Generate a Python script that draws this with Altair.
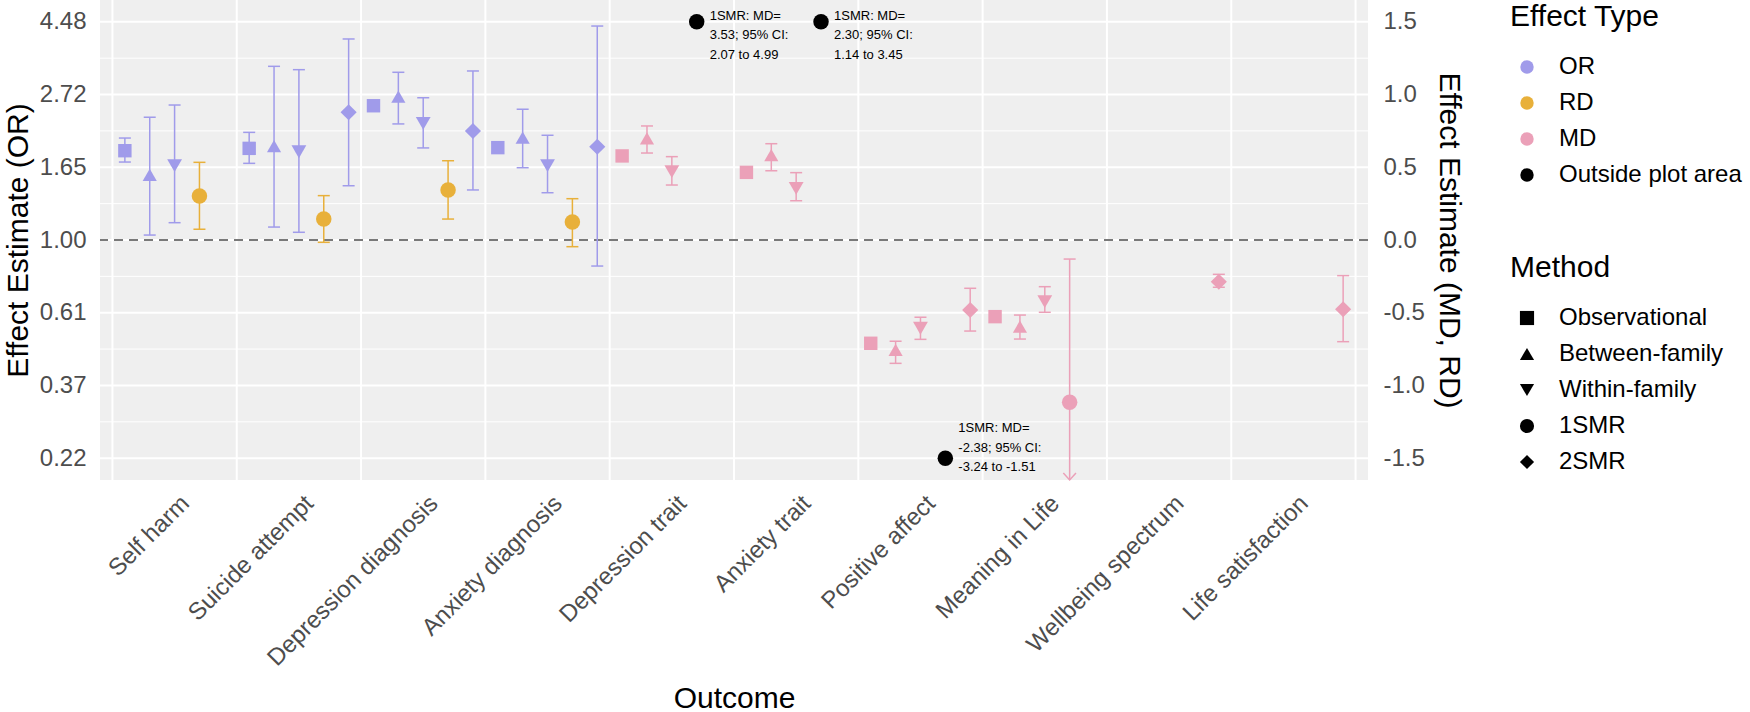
import altair as alt
import pandas as pd

# ---------------- data ----------------
outcomes = ["Self harm", "Suicide attempt", "Depression diagnosis", "Anxiety diagnosis",
            "Depression trait", "Anxiety trait", "Positive affect", "Meaning in Life",
            "Wellbeing spectrum", "Life satisfaction"]
methods = ["Observational", "Between-family", "Within-family", "1SMR", "2SMR"]
effect_types = ["OR", "RD", "MD", "Outside plot area"]
type_colors = ["#A09BEA", "#E8B03A", "#EBA0B8", "#000000"]
method_shapes = ["square", "triangle-up", "triangle-down", "circle", "diamond"]
method_sizes = [180, 260, 260, 200, 160]

row_outcome = [
    "Self harm", "Self harm", "Self harm", "Self harm",
    "Suicide attempt", "Suicide attempt", "Suicide attempt", "Suicide attempt", "Suicide attempt",
    "Depression diagnosis", "Depression diagnosis", "Depression diagnosis", "Depression diagnosis", "Depression diagnosis",
    "Anxiety diagnosis", "Anxiety diagnosis", "Anxiety diagnosis", "Anxiety diagnosis", "Anxiety diagnosis",
    "Depression trait", "Depression trait", "Depression trait", "Depression trait",
    "Anxiety trait", "Anxiety trait", "Anxiety trait", "Anxiety trait",
    "Positive affect", "Positive affect", "Positive affect", "Positive affect", "Positive affect",
    "Meaning in Life", "Meaning in Life", "Meaning in Life", "Meaning in Life",
    "Wellbeing spectrum",
    "Life satisfaction",
]
row_method = [
    "Observational", "Between-family", "Within-family", "1SMR",
    "Observational", "Between-family", "Within-family", "1SMR", "2SMR",
    "Observational", "Between-family", "Within-family", "1SMR", "2SMR",
    "Observational", "Between-family", "Within-family", "1SMR", "2SMR",
    "Observational", "Between-family", "Within-family", "1SMR",
    "Observational", "Between-family", "Within-family", "1SMR",
    "Observational", "Between-family", "Within-family", "1SMR", "2SMR",
    "Observational", "Between-family", "Within-family", "1SMR",
    "2SMR",
    "2SMR",
]
row_type = [
    "OR", "OR", "OR", "RD",
    "OR", "OR", "OR", "RD", "OR",
    "OR", "OR", "OR", "RD", "OR",
    "OR", "OR", "OR", "RD", "OR",
    "MD", "MD", "MD", "MD",
    "MD", "MD", "MD", "MD",
    "MD", "MD", "MD", "MD", "MD",
    "MD", "MD", "MD", "MD",
    "MD",
    "MD",
]
row_est = [
    0.614, 0.447, 0.511, 0.302,
    0.630, 0.646, 0.607, 0.144, 0.878,
    0.923, 0.985, 0.802, 0.344, 0.749,
    0.635, 0.703, 0.511, 0.124, 0.641,
    0.578, 0.699, 0.470, 3.53,
    0.465, 0.584, 0.355, 2.30,
    -0.710, -0.756, -0.607, -2.38, -0.481,
    -0.527, -0.596, -0.424, -1.116,
    -0.287,
    -0.476,
]
row_lower = [
    0.536, 0.034, 0.119, 0.074,
    0.527, 0.089, 0.053, -0.016, 0.373,
    0.895, 0.798, 0.633, 0.144, 0.344,
    0.605, 0.497, 0.325, -0.046, -0.179,
    0.558, 0.598, 0.378, 2.07,
    0.445, 0.476, 0.270, 1.14,
    -0.730, -0.848, -0.683, -3.24, -0.626,
    -0.547, -0.681, -0.497, -2.10,
    -0.325,
    -0.699,
]
row_upper = [
    0.701, 0.844, 0.928, 0.534,
    0.740, 1.194, 1.171, 0.305, 1.382,
    0.951, 1.153, 0.978, 0.545, 1.162,
    0.665, 0.899, 0.720, 0.284, 1.471,
    0.598, 0.784, 0.573, 4.99,
    0.485, 0.662, 0.463, 3.45,
    -0.690, -0.696, -0.531, -1.51, -0.332,
    -0.507, -0.516, -0.321, -0.131,
    -0.236,
    -0.245,
]

plot_limits = [-1.5, 1.5]
y_domain = [-1.65, 1.65]
y_major = [-1.5, -1.0, -0.5, 0.0, 0.5, 1.0, 1.5]
y_minor = [-1.25, -0.75, -0.25, 0.25, 0.75, 1.25]
x_domain = [0.4, len(outcomes) + 0.6]
dodge_width = 0.2

# ---------------- table ----------------
df = pd.DataFrame({
    "outcome": row_outcome, "method": row_method, "type": row_type,
    "est": row_est, "lower": row_lower, "upper": row_upper,
})
o_idx = {o: i + 1 for i, o in enumerate(outcomes)}
m_idx = {m: i for i, m in enumerate(methods)}
df["pos"] = df["outcome"].map(o_idx) + (df["method"].map(m_idx) - (len(methods) - 1) / 2) * dodge_width
df["size_key"] = df["method"]
outside = (df["est"] > plot_limits[1]) | (df["est"] < plot_limits[0])
df["shown_type"] = df["type"].where(~outside, "Outside plot area")
df["y_plot"] = df["est"].clip(plot_limits[0], plot_limits[1])
df["label"] = [
    f"{m}: {t}=\n{e:.2f}; 95% CI:\n{lo:.2f} to {hi:.2f}"
    for m, t, e, lo, hi in zip(df["method"], df["type"], df["est"], df["lower"], df["upper"])
]
inside_df = df[~outside]
top_df = df[df["est"] > plot_limits[1]]
bottom_df = df[df["est"] < plot_limits[0]]

separators = pd.DataFrame({"p": [i + 0.5 for i in range(len(outcomes) + 1)]})

# ---------------- scales ----------------
FONT = "Liberation Sans"
xs = alt.Scale(domain=x_domain, nice=False, zero=False)
ys = alt.Scale(domain=y_domain, nice=False, zero=False, clamp=True)
color_scale = alt.Scale(domain=effect_types, range=type_colors)

x_label_expr = " : ".join(
    f"datum.value == {i + 1} ? '{o}'" for i, o in enumerate(outcomes)
) + " : ''"

X = lambda f: alt.X(f, scale=xs)

minor_grid = alt.Chart(pd.DataFrame({"v": y_minor})).mark_rule(color="white", strokeWidth=1).encode(
    y=alt.Y("v:Q", scale=ys, axis=None)
)
major_grid = alt.Chart(pd.DataFrame({"v": y_major})).mark_rule(color="white", strokeWidth=2).encode(
    y=alt.Y("v:Q", scale=ys, axis=alt.Axis(
        orient="left", values=y_major, labelExpr="format(exp(datum.value), '.2f')",
        title="Effect Estimate (OR)", labelPadding=14,
        titleX=-82, titleY=240, titleAngle=270, titleAlign="center", titleBaseline="middle",
    ))
)
vlines = alt.Chart(separators).mark_rule(color="white", strokeWidth=2).encode(
    x=alt.X("p:Q", scale=xs, axis=alt.Axis(
        orient="bottom",
        values=list(range(1, len(outcomes) + 1)),
        labelExpr=x_label_expr,
        labelAngle=315, labelAlign="right", labelBaseline="top",
        labelPadding=11, labelOffset=2, labelLimit=500, title="Outcome",
        titleY=227, titleBaseline="alphabetic", labelOverlap=False, labelBound=False,
    ))
)
zero_line = alt.Chart(pd.DataFrame({"v": [0.0]})).mark_rule(
    color="#4D4D4D", strokeDash=[9, 6], strokeWidth=1.6
).encode(
    y=alt.Y("v:Q", scale=ys, axis=alt.Axis(
        orient="right", values=y_major,
        labelExpr="replace(format(datum.value, '.1f'), '\u2212', '-')",
        title="Effect Estimate (MD, RD)", labelPadding=15,
        titleX=80, titleY=240, titleAngle=90, titleAlign="center", titleBaseline="middle",
    ))
)

err_color = alt.Color("shown_type:N", scale=color_scale)
err_rule = alt.Chart(inside_df).mark_rule(strokeWidth=1.5).encode(
    x=X("pos:Q"),
    y=alt.Y("lower:Q", scale=ys, axis=None),
    y2="upper:Q",
    color=err_color,
)
cap_hi = alt.Chart(inside_df).mark_tick(orient="horizontal", size=12, thickness=1.5, opacity=1).encode(
    x=X("pos:Q"),
    y=alt.Y("upper:Q", scale=ys, axis=None),
    color=err_color,
)
cap_lo = alt.Chart(inside_df).transform_filter(
    f"datum.lower >= {y_domain[0]}"
).mark_tick(orient="horizontal", size=12, thickness=1.5, opacity=1).encode(
    x=X("pos:Q"),
    y=alt.Y("lower:Q", scale=ys, axis=None),
    color=err_color,
)
arrow = alt.Chart(inside_df).transform_filter(
    f"datum.lower < {y_domain[0]}"
).mark_point(shape="M-1,-1.1L0,0L1,-1.1", filled=False, strokeWidth=1.5, size=160, opacity=1).encode(
    x=X("pos:Q"),
    y=alt.Y("lower:Q", scale=ys, axis=None),
    color=err_color,
)

legend_common = dict(
    orient="none", legendX=1410, symbolOffset=5, labelOffset=20, rowPadding=12,
    titlePadding=23, padding=0, labelLimit=400,
)
points = alt.Chart(df).mark_point(filled=True, opacity=1).encode(
    x=X("pos:Q"),
    y=alt.Y("y_plot:Q", scale=ys, axis=None),
    color=alt.Color("shown_type:N", scale=color_scale, legend=alt.Legend(
        title="Effect Type", legendY=2,
        symbolType="circle", symbolSize=180, symbolStrokeWidth=0, **legend_common,
    )),
    shape=alt.Shape("method:N", scale=alt.Scale(domain=methods, range=method_shapes), legend=alt.Legend(
        title="Method", legendY=253,
        symbolSize=200, symbolFillColor="black", symbolStrokeColor="black", symbolStrokeWidth=0,
        **legend_common,
    )),
    size=alt.Size("size_key:N", sort=methods, scale=alt.Scale(range=method_sizes), legend=None),
)

text_top = alt.Chart(top_df).mark_text(
    align="left", baseline="top", dx=13, dy=-12, fontSize=13, lineHeight=19.5,
    font=FONT, color="black", lineBreak="\n"
).encode(
    x=X("pos:Q"),
    y=alt.Y("y_plot:Q", scale=ys, axis=None),
    text="label:N",
)
text_bottom = alt.Chart(bottom_df).mark_text(
    align="left", baseline="top", dx=13, dy=-36, fontSize=13, lineHeight=19.5,
    font=FONT, color="black", lineBreak="\n"
).encode(
    x=X("pos:Q"),
    y=alt.Y("y_plot:Q", scale=ys, axis=None),
    text="label:N",
)

chart = alt.layer(
    minor_grid, major_grid, vlines, zero_line,
    err_rule, cap_hi, cap_lo, arrow, points, text_top, text_bottom,
).resolve_axis(y="independent").properties(
    width=1268, height=480,
    autosize=alt.AutoSizeParams(type="none"),
    padding={"left": 100, "top": 0, "right": 382, "bottom": 232},
).configure_view(
    fill="#EFEFEF", strokeWidth=0,
).configure_axis(
    labelFont=FONT, titleFont=FONT, labelFontSize=24, titleFontSize=30,
    labelColor="#4D4D4D", titleColor="black", titleFontWeight="normal",
    ticks=False, domain=False, grid=False,
).configure_legend(
    titleFont=FONT, labelFont=FONT, titleFontSize=30, labelFontSize=24,
    titleFontWeight="normal", titleColor="black", labelColor="black",
)

chart.save("out.html", embed_options={"renderer": "svg", "actions": False})
